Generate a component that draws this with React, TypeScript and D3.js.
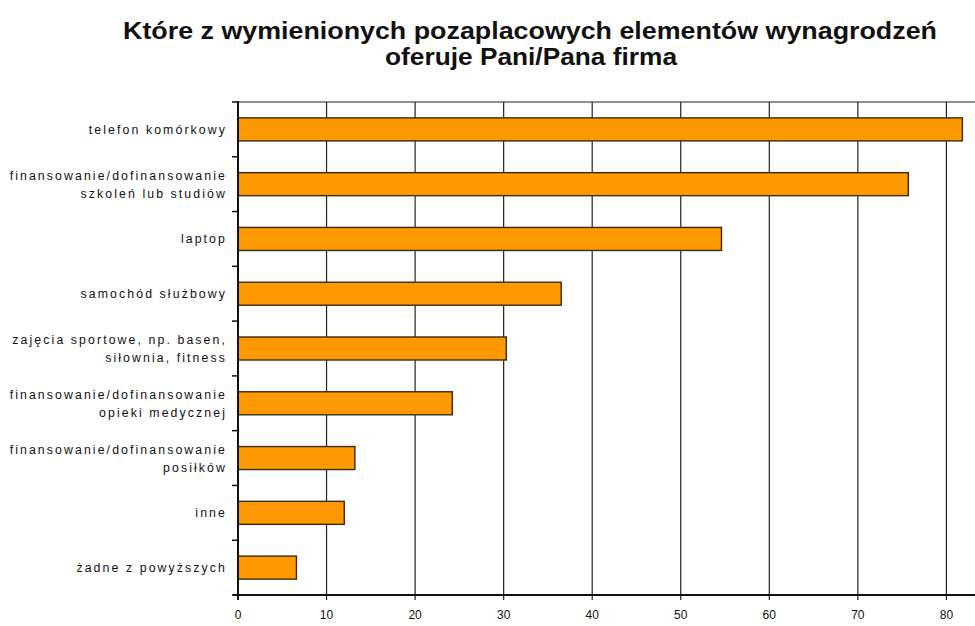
import React from "react";
import * as d3 from "d3";

const titleLines = [
  "Które z wymienionych pozaplacowych elementów wynagrodzeń",
  "oferuje Pani/Pana firma",
];

const categories = [
  ["telefon komórkowy"],
  ["finansowanie/dofinansowanie", "szkoleń lub studiów"],
  ["laptop"],
  ["samochód służbowy"],
  ["zajęcia sportowe, np. basen,", "siłownia, fitness"],
  ["finansowanie/dofinansowanie", "opieki medycznej"],
  ["finansowanie/dofinansowanie", "posiłków"],
  ["inne"],
  ["żadne z powyższych"],
];

const values = [81.8, 75.7, 54.6, 36.5, 30.3, 24.2, 13.2, 12.0, 6.6];

const xTicks = [0, 10, 20, 30, 40, 50, 60, 70, 80];

const W = 975;
const H = 626;
const left = 238;
const top = 102;
const bottom = 595;

export default function App() {
  const x = d3.scaleLinear().domain([0, 80]).range([left, left + 80 * 8.855]);
  const y = d3
    .scaleBand<number>()
    .domain(d3.range(categories.length))
    .range([top, bottom])
    .paddingInner(0.58)
    .paddingOuter(0.29);
  const step = y.step();
  const boundaries = d3.range(categories.length + 1).map((i) => top + i * step);

  return (
    <svg
      width={W}
      height={H}
      style={{ position: "fixed", left: 0, top: 0, background: "#fff" }}
      fontFamily="'Liberation Sans', Arial, sans-serif"
    >
      <rect x={0} y={0} width={W} height={H} fill="#fff" />
      {/* title */}
      <text
        x={530}
        y={39}
        textAnchor="middle"
        fontSize={24}
        fontWeight="bold"
        fill="#111"
        textLength={814}
        lengthAdjust="spacingAndGlyphs"
      >
        {titleLines[0]}
      </text>
      <text
        x={531}
        y={65}
        textAnchor="middle"
        fontSize={24}
        fontWeight="bold"
        fill="#111"
        textLength={292}
        lengthAdjust="spacingAndGlyphs"
      >
        {titleLines[1]}
      </text>

      {/* top border */}
      <line x1={left} x2={W} y1={top} y2={top} stroke="#222" strokeWidth={1.2} />

      {/* vertical gridlines */}
      {xTicks.slice(1).map((t) => (
        <line
          key={"g" + t}
          x1={x(t)}
          x2={x(t)}
          y1={top}
          y2={bottom + 5}
          stroke="#222"
          strokeWidth={1.2}
        />
      ))}

      {/* bars */}
      {values.map((v, i) => (
        <rect
          key={"b" + i}
          x={x(0)}
          y={y(i)!}
          width={x(v) - x(0)}
          height={y.bandwidth()}
          fill="#FF9900"
          stroke="#3a2a10"
          strokeWidth={1.4}
        />
      ))}

      {/* axes */}
      <line x1={left} x2={left} y1={top - 1} y2={bottom + 5} stroke="#111" strokeWidth={2} />
      <line x1={left - 5} x2={W} y1={bottom} y2={bottom} stroke="#111" strokeWidth={2} />
      {boundaries.map((b, i) => (
        <line key={"yt" + i} x1={left - 6} x2={left} y1={b} y2={b} stroke="#111" strokeWidth={1.5} />
      ))}

      {/* x tick labels */}
      {xTicks.map((t) => (
        <text
          key={"xl" + t}
          x={x(t)}
          y={619}
          textAnchor="middle"
          fontSize={12}
          fill="#111"
        >
          {t}
        </text>
      ))}

      {/* category labels */}
      {categories.map((lines, i) => {
        const cy = y(i)! + y.bandwidth() / 2;
        const lh = 18;
        const start = cy - ((lines.length - 1) * lh) / 2;
        return lines.map((ln, j) => (
          <text
            key={"c" + i + "-" + j}
            x={227}
            y={start + j * lh + 4.5}
            textAnchor="end"
            fontSize={12.3}
            letterSpacing={2.1}
            fill="#111"
          >
            {ln}
          </text>
        ));
      })}
    </svg>
  );
}
